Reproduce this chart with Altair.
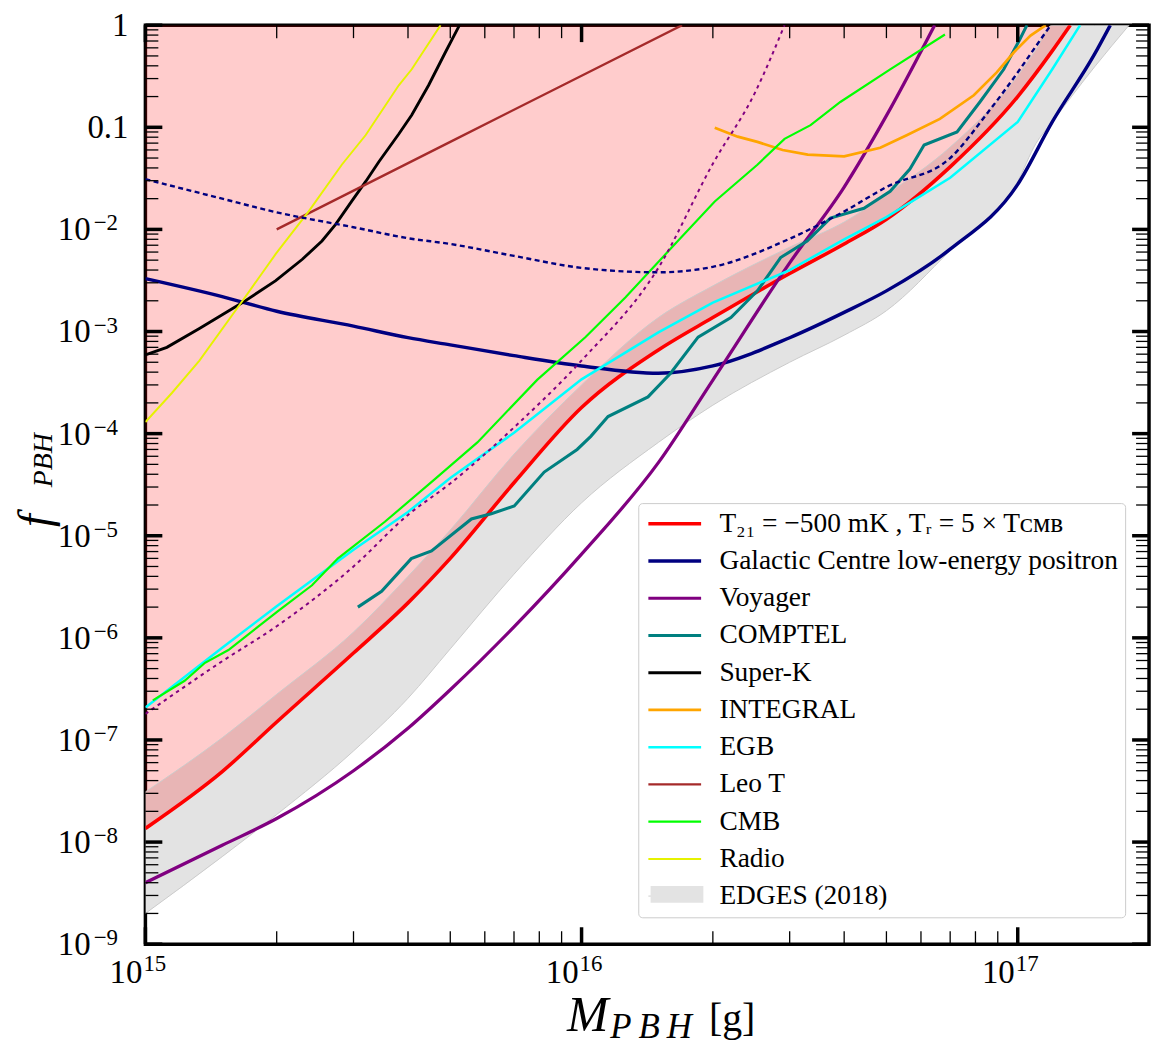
import altair as alt
import pandas as pd

# ---------------- data ----------------
M_GRID = [1e15, 1.5e15, 2e15, 3e15, 4e15, 5e15, 7e15, 1e16, 1.5e16, 2e16,
          3e16, 4e16, 5e16, 7e16, 1e17]

T21_M = M_GRID + [1.2e17, 1.32e17]
T21_F = [1.36e-8, 4.9e-8, 1.5e-7, 7.1e-7, 2.2e-6, 6.0e-6, 3.3e-5, 1.8e-4,
         6.6e-4, 1.37e-3, 3.7e-3, 7.2e-3, 1.26e-2, 4.1e-2, 0.20, 0.56, 1.0]

EDGES_M = M_GRID + [1.1e17, 1.2e17, 1.5e17, 1.8e17]
EDGES_HI = [3.1e-8, 1.05e-7, 2.8e-7, 1.14e-6, 4.0e-6, 1.14e-5, 6.3e-5, 3.0e-4,
            1.37e-3, 2.8e-3, 6.7e-3, 1.18e-2, 2.2e-2, 6.4e-2, 0.32, 0.57, 1.0, 1.0, 1.0]
EDGES_LO = [2.0e-9, 7.2e-9, 1.86e-8, 7.8e-8, 2.56e-7, 7.8e-7, 4.2e-6, 2.1e-5,
            8.2e-5, 1.9e-4, 5.0e-4, 9.2e-4, 1.6e-3, 6.2e-3, 2.95e-2, 6.9e-2, 0.113, 0.39, 1.0]

GC_M = M_GRID + [1.2e17, 1.5e17, 1.63e17]
GC_F = [3.3e-3, 2.2e-3, 1.58e-3, 1.13e-3, 8.7e-4, 7.4e-4, 5.8e-4, 4.6e-4, 3.9e-4,
        4.6e-4, 8.7e-4, 1.54e-3, 2.5e-3, 6.4e-3, 2.76e-2, 0.113, 0.52, 1.0]

GCD_M = [1e15, 1.5e15, 2e15, 3e15, 4e15, 5e15, 7e15, 1e16, 1.5e16, 2e16, 3e16,
         4e16, 5e16, 7e16, 8.5e16, 1e17, 1.1e17, 1.19e17]
GCD_F = [3.1e-2, 2.0e-2, 1.47e-2, 1.05e-2, 8.2e-3, 7.2e-3, 5.5e-3, 4.2e-3, 3.8e-3,
         4.3e-3, 8.1e-3, 1.5e-2, 2.6e-2, 5.0e-2, 0.136, 0.345, 0.62, 1.0]

VOY_M = [1e15, 1.5e15, 2e15, 3e15, 4e15, 5e15, 7e15, 1e16, 1.5e16, 2e16, 3e16,
         4e16, 5e16, 6.45e16]
VOY_F = [4.0e-9, 9.3e-9, 1.7e-8, 5.0e-8, 1.3e-7, 3.1e-7, 1.28e-6, 6.6e-6, 5.2e-5,
         3.35e-4, 4.7e-3, 2.6e-2, 0.13, 1.0]

VOYD_M = [1e15, 1.5e15, 2e15, 3e15, 4e15, 5e15, 7e15, 1e16, 1.5e16, 2e16, 2.5e16, 2.92e16]
VOYD_F = [1.8e-7, 5.9e-7, 1.3e-6, 5.0e-6, 1.6e-5, 3.25e-5, 1.15e-4, 5.2e-4, 4.2e-3,
          4.4e-2, 0.22, 1.0]

COMPTEL_M = [3.07e15, 3.48e15, 4.07e15, 4.53e15, 5.59e15, 6.21e15, 7.01e15, 8.21e15,
             9.77e15, 1.05e16, 1.15e16, 1.42e16, 1.60e16, 1.85e16, 2.20e16, 2.53e16,
             2.86e16, 3.29e16, 3.72e16, 4.44e16, 5.10e16, 5.66e16, 6.10e16, 7.26e16,
             8.19e16, 9.29e16, 1.01e17, 1.05e17]
COMPTEL_F = [2.0e-6, 2.86e-6, 5.97e-6, 7.1e-6, 1.46e-5, 1.64e-5, 1.96e-5, 4.2e-5,
             7.0e-5, 9.4e-5, 1.47e-4, 2.29e-4, 3.9e-4, 8.8e-4, 1.37e-3, 2.5e-3,
             5.3e-3, 7.7e-3, 1.29e-2, 1.61e-2, 2.36e-2, 3.9e-2, 6.7e-2, 9.0e-2,
             0.177, 0.37, 0.72, 1.0]

SK_M = [1e15, 1.12e15, 1.33e15, 1.67e15, 1.99e15, 2.29e15, 2.54e15, 2.73e15,
        2.97e15, 3.20e15, 3.43e15, 3.81e15, 4.08e15, 4.46e15, 4.87e15, 5.25e15]
SK_F = [5.9e-4, 7.0e-4, 1.07e-3, 1.92e-3, 3.15e-3, 5.1e-3, 7.7e-3, 1.12e-2,
        1.88e-2, 2.95e-2, 4.6e-2, 8.6e-2, 0.132, 0.258, 0.54, 1.0]

INT_M = [2.02e16, 2.28e16, 2.53e16, 2.89e16, 3.30e16, 4.00e16, 4.84e16, 5.58e16,
         6.63e16, 7.93e16, 8.95e16, 9.79e16, 1.07e17, 1.16e17]
INT_F = [9.9e-2, 8.1e-2, 7.2e-2, 6.0e-2, 5.4e-2, 5.2e-2, 6.3e-2, 8.4e-2, 0.121,
         0.206, 0.345, 0.54, 0.79, 1.0]

EGB_M = M_GRID + [1.2e17, 1.39e17]
EGB_F = [2.08e-7, 8.0e-7, 2.04e-6, 7.3e-6, 1.71e-5, 3.67e-5, 1.02e-4, 3.4e-4, 9.8e-4,
         1.92e-3, 4.0e-3, 8.0e-3, 1.32e-2, 3.2e-2, 0.113, 0.37, 1.0]

LEOT_M = [2.0e15, 5.0e15, 1.0e16, 1.7e16]
LEOT_F = [1.0e-2, 7.2e-2, 0.32, 1.0]

CMB_M = [1.04e15, 1.23e15, 1.37e15, 1.55e15, 2.01e15, 2.41e15, 2.76e15, 3.54e15,
         4.61e15, 5.77e15, 7.91e15, 1.02e16, 1.26e16, 1.58e16, 2.02e16, 2.53e16,
         2.92e16, 3.35e16, 3.92e16, 5.10e16, 6.81e16]
CMB_F = [2.44e-7, 3.8e-7, 5.7e-7, 7.6e-7, 1.82e-6, 3.27e-6, 5.97e-6, 1.37e-5,
         3.58e-5, 8.2e-5, 3.36e-4, 8.8e-4, 2.15e-3, 6.1e-3, 1.88e-2, 4.3e-2,
         7.7e-2, 0.105, 0.177, 0.37, 0.81]

RADIO_M = [1e15, 1.15e15, 1.33e15, 1.67e15, 1.99e15, 2.37e15, 2.82e15, 3.20e15,
           3.81e15, 4.08e15, 4.75e15]
RADIO_F = [1.30e-4, 2.5e-4, 5.2e-4, 2.0e-3, 5.75e-3, 1.51e-2, 4.3e-2, 8.4e-2,
           0.258, 0.37, 1.0]

NAMES = ["T₂₁ = −500 mK , Tᵣ = 5 × Tᴄᴍʙ", "Galactic Centre low-energy positron",
         "Voyager", "COMPTEL", "Super-K", "INTEGRAL", "EGB", "Leo T", "CMB",
         "Radio", "EDGES (2018)"]
COLORS = ["#ff0000", "#000080", "#800080", "#008080", "#000000", "#ffa500",
          "#00ffff", "#a52a2a", "#00ff00", "#e6f200", "#e3e3e3"]
WIDTHS = [3.6, 1.8, 1.8, 1.8, 1.8, 1.8, 1.8, 1.8, 1.8, 1.8, 17]

Y_PLAIN_V = [1.0, 0.1]
Y_PLAIN_T = ["1", "0.1"]
Y_POW_V = [1e-2, 1e-3, 1e-4, 1e-5, 1e-6, 1e-7, 1e-8, 1e-9]
Y_POW_E = ["−2", "−3", "−4", "−5", "−6", "−7", "−8", "−9"]
X_POW_V = [1e15, 1e16, 1e17]
X_POW_E = ["15", "16", "17"]

# ---------------- build tables ----------------
def sdf(name, M, F):
    return pd.DataFrame({"name": name, "M": M, "f": F})

smooth = pd.concat([sdf(NAMES[0], T21_M, T21_F), sdf(NAMES[1], GC_M, GC_F),
                    sdf(NAMES[2], VOY_M, VOY_F)])
rough = pd.concat([sdf(NAMES[3], COMPTEL_M, COMPTEL_F), sdf(NAMES[4], SK_M, SK_F),
                   sdf(NAMES[5], INT_M, INT_F), sdf(NAMES[6], EGB_M, EGB_F),
                   sdf(NAMES[7], LEOT_M, LEOT_F), sdf(NAMES[8], CMB_M, CMB_F),
                   sdf(NAMES[9], RADIO_M, RADIO_F)])
band = pd.DataFrame({"name": NAMES[10], "M": EDGES_M, "lo": EDGES_LO, "hi": EDGES_HI})
band_edges = pd.concat([pd.DataFrame({"edge": "lo", "M": EDGES_M, "f": EDGES_LO}),
                        pd.DataFrame({"edge": "hi", "M": EDGES_M, "f": EDGES_HI})])
pink = pd.DataFrame({"M": T21_M, "f": T21_F})
gcd = pd.DataFrame({"M": GCD_M, "f": GCD_F})
voyd = pd.DataFrame({"M": VOYD_M, "f": VOYD_F})

y_major = [10.0 ** (-k) for k in range(10)]
y_minor = [m * 10.0 ** (-k) for k in range(1, 10) for m in range(2, 10)]
x_major = [1e15, 1e16, 1e17]
x_minor = [m * 10.0 ** k for k in (15, 16) for m in range(2, 10)]

W, H = 1008, 923
FONT = "Liberation Serif"
xs = alt.Scale(type="log", domain=[1e15, 2e17], nice=False)
ys = alt.Scale(type="log", domain=[1e-9, 1], nice=False)
X = lambda f: alt.X(f, scale=xs, axis=None)
Y = lambda f: alt.Y(f, scale=ys, axis=None)

leg = alt.Legend(orient="none", legendX=495, legendY=480, title=None,
                 symbolType="M-1,0H4", symbolSize=449, symbolStrokeWidth=2.2,
                 labelFont=FONT, labelFontSize=27.5, labelColor="black",
                 labelOffset=47, rowPadding=8.4, padding=7, strokeColor="#cccccc",
                 fillColor="white", cornerRadius=4, labelLimit=700, zindex=1)
cscale = alt.Scale(domain=NAMES, range=COLORS)
wscale = alt.Scale(domain=NAMES, range=WIDTHS)
color = alt.Color("name:N", scale=cscale, legend=leg, sort=NAMES)
swidth = alt.StrokeWidth("name:N", scale=wscale, legend=None)

# swatch for the EDGES band (filled patch) drawn over its legend row
band_leg = alt.Legend(orient="none", legendX=507, legendY=862, title=None,
                      symbolType="M-1,-0.8H4V0.8H-1Z", symbolSize=449,
                      symbolStrokeWidth=0, symbolOpacity=1, labelExpr="''",
                      labelFontSize=21, padding=0, labelOffset=0, zindex=2)
band_l = alt.Chart(band).mark_area(interpolate="monotone", clip=True).encode(
    x=X("M:Q"), y=Y("lo:Q"), y2="hi:Q",
    fill=alt.Fill("name:N", scale=alt.Scale(domain=[NAMES[10]], range=[COLORS[10]]),
                  legend=band_leg))
band_edge_l = alt.Chart(band_edges).mark_line(
    interpolate="monotone", color="#cbcbcb", strokeWidth=1, clip=True).encode(
    x=X("M:Q"), y=Y("f:Q"), detail="edge:N")
pink_l = alt.Chart(pink).mark_area(interpolate="monotone", color="#ff0000",
                                   opacity=0.2, clip=True).encode(
    x=X("M:Q"), y=Y("f:Q"), y2=alt.datum(1))
smooth_l = alt.Chart(smooth).mark_line(interpolate="monotone", clip=True).encode(
    x=X("M:Q"), y=Y("f:Q"), color=color, strokeWidth=swidth, detail="name:N")
rough_l = alt.Chart(rough).mark_line(clip=True).encode(
    x=X("M:Q"), y=Y("f:Q"), color=color, strokeWidth=swidth, detail="name:N")
gcd_l = alt.Chart(gcd).mark_line(interpolate="monotone", color="#000080",
                                 strokeWidth=2.4, strokeDash=[5, 3.5], clip=True).encode(
    x=X("M:Q"), y=Y("f:Q"))
voyd_l = alt.Chart(voyd).mark_line(interpolate="monotone", color="#800080",
                                   strokeWidth=2.0, strokeDash=[3.5, 4], clip=True).encode(
    x=X("M:Q"), y=Y("f:Q"))

# ticks (inward, on all four sides)
def yticks(vals, length, width):
    d = pd.DataFrame({"v": vals})
    left = alt.Chart(d).mark_rule(color="black", strokeWidth=width).encode(
        y=Y("v:Q"), x=alt.value(0), x2=alt.value(length))
    right = alt.Chart(d).mark_rule(color="black", strokeWidth=width).encode(
        y=Y("v:Q"), x=alt.value(W), x2=alt.value(W - length))
    return [left, right]

def xticks(vals, length, width):
    d = pd.DataFrame({"v": vals})
    bot = alt.Chart(d).mark_rule(color="black", strokeWidth=width).encode(
        x=X("v:Q"), y=alt.value(H), y2=alt.value(H - length))
    top = alt.Chart(d).mark_rule(color="black", strokeWidth=width).encode(
        x=X("v:Q"), y=alt.value(0), y2=alt.value(length))
    return [bot, top]

ticks = (yticks(y_major, 17, 3.5) + yticks(y_minor, 13, 1.3)
         + xticks(x_major, 17, 3.5) + xticks(x_minor, 13, 1.3))

# tick labels
ylab_plain = alt.Chart(pd.DataFrame({"v": Y_PLAIN_V, "t": Y_PLAIN_T})).mark_text(
    align="right", baseline="middle", font=FONT, fontSize=33, dy=1).encode(
    y=Y("v:Q"), x=alt.value(-17), text="t:N")
ylab_base = alt.Chart(pd.DataFrame({"v": Y_POW_V, "b": "10"})).mark_text(
    align="right", baseline="middle", font=FONT, fontSize=33, dy=1).encode(
    y=Y("v:Q"), x=alt.value(-55), text="b:N")
ylab_exp = alt.Chart(pd.DataFrame({"v": Y_POW_V, "e": Y_POW_E})).mark_text(
    align="left", baseline="middle", font=FONT, fontSize=23, dy=-6).encode(
    y=Y("v:Q"), x=alt.value(-52), text="e:N")
xlab_base = alt.Chart(pd.DataFrame({"v": X_POW_V, "b": "10"})).mark_text(
    align="right", baseline="alphabetic", font=FONT, fontSize=33, dx=-3).encode(
    x=X("v:Q"), y=alt.value(H + 39), text="b:N")
xlab_exp = alt.Chart(pd.DataFrame({"v": X_POW_V, "e": X_POW_E})).mark_text(
    align="left", baseline="alphabetic", font=FONT, fontSize=23, dx=-2).encode(
    x=X("v:Q"), y=alt.value(H + 27), text="e:N")

# axis titles
def txt(t, x, y, size, italic=False, align="left", angle=0):
    kw = dict(align=align, baseline="alphabetic", font=FONT, fontSize=size,
              fontStyle="italic" if italic else "normal", text=t)
    if angle:
        kw["angle"] = angle
    return alt.Chart(pd.DataFrame({"a": [0]})).mark_text(**kw).encode(
        x=alt.value(x), y=alt.value(y))

titles = [
    txt("M", 465, H + 87, 50, italic=True, align="right"),
    txt("P\u2009B\u2009H", 467, H + 94, 35, italic=True),
    txt("[g]", 566, H + 87, 40),
    txt("f", -96, 504, 46, italic=True, angle=270),
    txt("PBH", -94, 464, 28, italic=True, angle=270),
]

chart = alt.layer(
    band_l, pink_l, band_edge_l, smooth_l, rough_l, gcd_l, voyd_l, *ticks,
    ylab_plain, ylab_base, ylab_exp, xlab_base, xlab_exp, *titles
).properties(
    width=W, height=H,
    padding={"left": 138, "top": 15, "right": 6, "bottom": 100},
    autosize=alt.AutoSizeParams(type="none"),
).configure_view(stroke="black", strokeWidth=3.5)

chart.save("out.html", embed_options={"renderer": "svg", "actions": False})
